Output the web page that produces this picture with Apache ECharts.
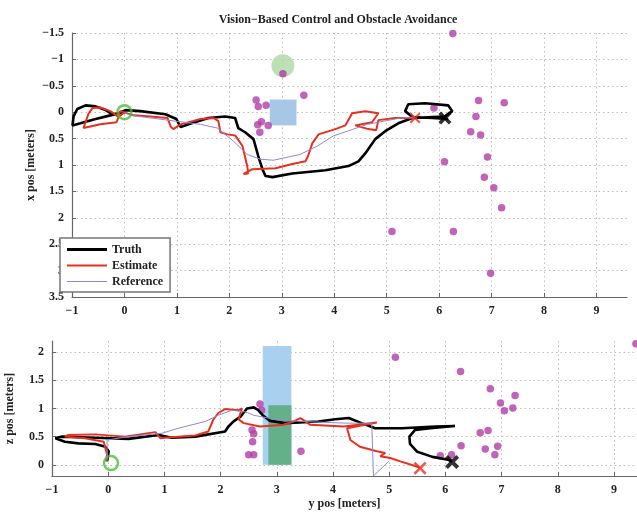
<!DOCTYPE html>
<html><head><meta charset="utf-8">
<script src="https://cdn.jsdelivr.net/npm/echarts@6/dist/echarts.min.js"></script>
<style>html,body{margin:0;padding:0;background:#fff}#c{width:637px;height:512px}</style>
</head><body><div id="c"></div>
<script>
// ---------- data (top plot: [y pos, x pos]; bottom plot: [y pos, z pos]) ----------
const titleText = 'Vision\u2212Based Control and Obstacle Avoidance';
const legendNames = ['Truth', 'Estimate', 'Reference'];

const truthTop = [[0,0],[-0.27,0.06],[-0.55,0.13],[-0.84,0.21],[-0.99,0.25],[-0.97,0.08],[-0.90,-0.06],[-0.74,-0.13],[-0.55,-0.11],[-0.36,-0.04],[-0.23,0.04],[-0.11,0.02],[0.02,-0.04],[0.30,-0.02],[0.78,0.04],[0.99,0.13],[1.07,0.28],[1.28,0.21],[1.60,0.11],[1.92,0.08],[2.11,0.11],[2.17,0.30],[2.30,0.38],[2.46,0.51],[2.55,0.83],[2.63,1.08],[2.69,1.21],[2.82,1.23],[3.20,1.16],[3.83,1.10],[4.27,1.02],[4.46,0.93],[4.59,0.78],[4.78,0.51],[4.97,0.36],[5.22,0.21],[5.49,0.11],[5.87,0.09],[6.11,0.08],[6.25,-0.02],[6.17,-0.13],[5.73,-0.17],[5.41,-0.15],[5.35,-0.02],[5.49,0.09],[5.87,0.11],[6.17,0.13]];
const estimateTop = [[0,0],[-0.11,0.09],[-0.15,0.19],[-0.46,0.23],[-0.78,0.30],[-0.69,0.04],[-0.61,-0.08],[-0.46,-0.09],[-0.27,-0.02],[-0.13,0.08],[-0.08,-0.02],[0.17,0.06],[0.50,0.08],[0.82,0.11],[0.88,0.27],[0.93,0.32],[1.07,0.23],[1.45,0.13],[1.70,0.11],[1.79,0.17],[1.83,0.38],[1.96,0.42],[2.11,0.44],[2.25,0.64],[2.34,1.02],[2.36,1.16],[2.27,1.17],[2.44,1.08],[2.88,1.06],[3.20,0.98],[3.45,0.93],[3.50,0.83],[3.58,0.59],[3.70,0.42],[4.02,0.32],[4.21,0.25],[4.29,0.11],[4.34,0.02],[4.59,-0.02],[4.84,0.02],[4.72,0.19],[4.40,0.25],[4.65,0.32],[4.80,0.34],[4.84,0.15],[5.16,0.11],[5.54,0.11]];
const referenceTop = [[0,0],[0.11,0.06],[0.82,0.15],[1.45,0.23],[1.77,0.30],[2.08,0.55],[2.34,0.80],[2.59,0.89],[2.84,0.91],[3.35,0.80],[3.68,0.64],[3.98,0.45],[4.63,0.23],[5.26,0.11],[5.54,0.09]];
const dotsTop = [[6.26,-1.49],[3.02,-0.73],[3.42,-0.32],[6.75,-0.22],[7.24,-0.18],[5.90,-0.08],[6.70,0.08],[6.60,0.37],[6.79,0.43],[6.92,0.85],[6.10,0.94],[6.86,1.23],[7.04,1.43],[7.19,1.81],[5.10,2.26],[6.27,2.26],[6.98,3.05],[9.40,3.54],[2.51,-0.23],[2.55,-0.11],[2.70,-0.13],[2.61,0.18],[2.54,0.24],[2.74,0.25],[2.58,0.38]];
const startTop = [[0,0]];
const truthEndTop = [[6.11,0.11]];
const estimateEndTop = [[5.54,0.11]];
const greenBallTop = [[3.02,-0.88]];
const blueBoxTop = [[2.77,-0.24,3.28,0.25]];

const truthBot = [[-0.02,0.06],[0.01,0.24],[-0.05,0.32],[-0.23,0.37],[-0.53,0.38],[-0.77,0.41],[-0.94,0.47],[-0.97,0.50],[-0.82,0.50],[-0.23,0.48],[0.36,0.46],[0.90,0.53],[1.13,0.48],[1.55,0.50],[2.08,0.59],[2.14,0.68],[2.23,0.77],[2.35,0.85],[2.47,1.00],[2.59,1.02],[2.67,0.97],[2.76,0.87],[2.88,0.78],[3.15,0.74],[3.74,0.77],[4.04,0.81],[4.28,0.83],[4.51,0.74],[4.75,0.65],[5.23,0.65],[5.82,0.68],[6.17,0.69],[5.73,0.65],[5.46,0.62],[5.36,0.50],[5.37,0.37],[5.50,0.23],[5.77,0.14],[6.05,0.09],[6.12,0.05]];
const estimateBot = [[-0.04,0.06],[-0.02,0.18],[-0.08,0.41],[-0.41,0.47],[-0.77,0.50],[-0.71,0.53],[-0.23,0.54],[0.30,0.50],[0.84,0.58],[0.93,0.47],[1.01,0.48],[1.55,0.52],[1.78,0.59],[1.87,0.80],[1.96,0.92],[2.08,0.99],[2.32,0.97],[2.38,1.00],[2.32,0.81],[2.41,0.74],[2.70,0.68],[3.12,0.71],[3.30,0.77],[3.42,0.83],[3.51,0.77],[3.59,0.71],[4.19,0.68],[4.78,0.75],[4.25,0.65],[4.22,0.62],[4.31,0.44],[4.48,0.32],[4.78,0.24],[4.93,0.21],[4.84,0.15],[5.02,0.12],[5.20,0.06],[5.49,-0.03],[5.55,-0.06]];
const referenceBot = [[-0.02,0.05],[-0.02,0.44],[0.36,0.50],[0.96,0.56],[1.25,0.65],[1.73,0.77],[1.96,0.88],[2.20,0.97],[2.44,0.94],[2.59,0.88],[3.00,0.80],[3.45,0.77],[4.22,0.74],[4.69,0.74],[4.72,-0.2],[4.99,0.06]];
const dotsBot = [[9.39,2.15],[5.11,1.91],[6.27,1.66],[6.80,1.35],[7.24,1.23],[6.98,1.10],[7.20,1.01],[7.05,0.96],[6.62,0.57],[6.76,0.61],[6.28,0.34],[6.71,0.28],[6.93,0.33],[6.88,0.18],[5.91,0.16],[6.11,0.18],[3.43,0.24],[2.70,1.08],[2.73,0.97],[2.56,0.62],[2.59,0.55],[2.57,0.41],[2.50,0.18],[2.59,0.18]];
const startBot = [[0.05,0.03]];
const truthEndBot = [[6.12,0.05]];
const estimateEndBot = [[5.55,-0.06]];
const blueBoxBot = [[2.75,0,3.26,2.11]];
const greenBoxBot = [[2.85,0,3.26,1.06]];

// ---------- styling ----------
const FONT = 'Liberation Serif';
const TXT = '#222';
const C_TRUTH = '#000000', C_EST = '#e8301e', C_REF = '#8a8ad8', C_DOT = '#b23ca6';
const X_THICK = 'path://M2,0L5,3L8,0L10,2L7,5L10,8L8,10L5,7L2,10L0,8L3,5L0,2Z';
const X_THIN = 'path://M1.4,0L5,3.6L8.6,0L10,1.4L6.4,5L10,8.6L8.6,10L5,6.4L1.4,10L0,8.6L3.6,5L0,1.4Z';
// legend line samples: tiny anchor triangles fix the 40x13 box, the bar gives the stroke thickness
const legIcon = (y0, y1) => 'path://M0,0L0.01,0L0,0.01Z M0,13L0.01,13L0,12.99Z M0,' + y0 + 'L40,' + y0 + 'L40,' + y1 + 'L0,' + y1 + 'Z';
const legendIcons = [legIcon(5.1, 7.9), legIcon(5.5, 7.5), legIcon(6, 7)];

const fmt = v => { let s = String(Math.round(v * 100) / 100); return s.replace('-', '\u2212'); };

function axisCommon(showMax) {
  return {
    nameMoveOverlap: false,
    axisLine: { onZero: false, lineStyle: { color: '#666', width: 1.2 } },
    axisTick: { inside: true, length: 4, lineStyle: { color: '#666' } },
    axisLabel: { color: TXT, fontFamily: FONT, fontSize: 12, fontWeight: 'bold', formatter: fmt, showMaxLabel: !!showMax },
    splitLine: { show: true, showMaxLine: false, lineStyle: { color: '#bdbdbd', type: [1.5, 3], width: 1 } },
    nameTextStyle: { color: TXT, fontFamily: FONT, fontSize: 12, fontWeight: 'bold' }
  };
}
function line(name, data, i, color, width, z) {
  return { type: 'line', name, data, xAxisIndex: i, yAxisIndex: i, symbol: 'none', showSymbol: false,
    lineStyle: { color, width }, itemStyle: { color }, z, silent: true, animation: false };
}
function scat(data, i, opts) {
  return Object.assign({ type: 'scatter', data, xAxisIndex: i, yAxisIndex: i, silent: true, animation: false }, opts);
}
function rects(data, i, color, z) {
  return { type: 'custom', data, xAxisIndex: i, yAxisIndex: i, silent: true, z, animation: false,
    encode: { x: [0, 2], y: [1, 3] },
    renderItem: (p, api) => {
      const a = api.coord([api.value(0), api.value(1)]);
      const b = api.coord([api.value(2), api.value(3)]);
      return { type: 'rect', shape: { x: Math.min(a[0], b[0]), y: Math.min(a[1], b[1]),
        width: Math.abs(b[0] - a[0]), height: Math.abs(b[1] - a[1]) }, style: { fill: color } };
    } };
}

const chart = echarts.init(document.getElementById('c'), null, { renderer: 'canvas' });
const xa0 = axisCommon(), xa1 = axisCommon(), ya0 = axisCommon(true), ya1 = axisCommon();
chart.setOption({
  animation: false,
  backgroundColor: '#fff',
  title: { text: titleText, left: 333, textAlign: 'center', top: 9,
    textStyle: { fontFamily: FONT, fontSize: 12, fontWeight: 'bold', color: TXT } },
  grid: [
    { left: 72, top: 33, width: 555, height: 264, outerBoundsMode: 'none', containLabel: false },
    { left: 52, top: 341, width: 585, height: 135, outerBoundsMode: 'none', containLabel: false }
  ],
  xAxis: [
    Object.assign(xa0, { gridIndex: 0, type: 'value', min: -1, max: 9.58, interval: 1 }),
    Object.assign(xa1, { gridIndex: 1, type: 'value', min: -1, max: 9.41, interval: 1,
      name: 'y pos [meters]', nameLocation: 'middle', nameGap: 22 })
  ],
  yAxis: [
    Object.assign(ya0, { gridIndex: 0, type: 'value', min: -1.5, max: 3.5, interval: 0.5, inverse: true,
      name: 'x pos [meters]', nameLocation: 'middle', nameGap: 35 }),
    Object.assign(ya1, { gridIndex: 1, type: 'value', min: -0.2, max: 2.2,
      name: 'z pos [meters]', nameLocation: 'middle', nameGap: 36 })
  ],
  legend: {
    data: legendNames.map((n, k) => ({ name: n, icon: legendIcons[k] })),
    orient: 'vertical', left: 60, top: 238,
    itemWidth: 40, itemHeight: 13, itemGap: 3, padding: [5, 7, 4, 7],
    backgroundColor: '#fff', borderColor: '#777', borderWidth: 1.5, borderRadius: 0,
    textStyle: { fontFamily: FONT, fontSize: 12, fontWeight: 'bold', color: TXT },
    selectedMode: false, z: 20
  },
  series: [
    rects(blueBoxTop, 0, '#a6c7e6', 1),
    scat(greenBallTop, 0, { symbolSize: 23, itemStyle: { color: '#acd9a2' }, z: 1 }),
    rects(blueBoxBot, 1, '#a9d0ee', 1),
    rects(greenBoxBot, 1, '#64b189', 1),
    scat(dotsTop, 0, { symbolSize: 7.5, itemStyle: { color: C_DOT }, z: 2 }),
    scat(dotsBot, 1, { symbolSize: 7.5, itemStyle: { color: C_DOT }, z: 2 }),
    line('Truth', truthTop, 0, C_TRUTH, 2.6, 3),
    line('Estimate', estimateTop, 0, C_EST, 2, 4),
    line('Reference', referenceTop, 0, C_REF, 1, 5),
    line('Truth', truthBot, 1, C_TRUTH, 2.6, 3),
    line('Estimate', estimateBot, 1, C_EST, 2, 4),
    line('Reference', referenceBot, 1, C_REF, 1, 5),
    scat(startTop, 0, { symbolSize: 14, itemStyle: { color: 'rgba(0,0,0,0)', borderColor: '#4cbb3c', borderWidth: 2.5 }, z: 6 }),
    scat(startBot, 1, { symbolSize: 14, itemStyle: { color: 'rgba(0,0,0,0)', borderColor: '#4cbb3c', borderWidth: 2.5 }, z: 6 }),
    scat(truthEndTop, 0, { symbol: X_THICK, symbolSize: 13, itemStyle: { color: C_TRUTH }, z: 7 }),
    scat(estimateEndTop, 0, { symbol: X_THIN, symbolSize: 11, itemStyle: { color: C_EST }, z: 7 }),
    scat(truthEndBot, 1, { symbol: X_THICK, symbolSize: 14, itemStyle: { color: C_TRUTH }, z: 7 }),
    scat(estimateEndBot, 1, { symbol: X_THIN, symbolSize: 13, itemStyle: { color: C_EST }, z: 7 })
  ]
});
</script>
</body></html>
